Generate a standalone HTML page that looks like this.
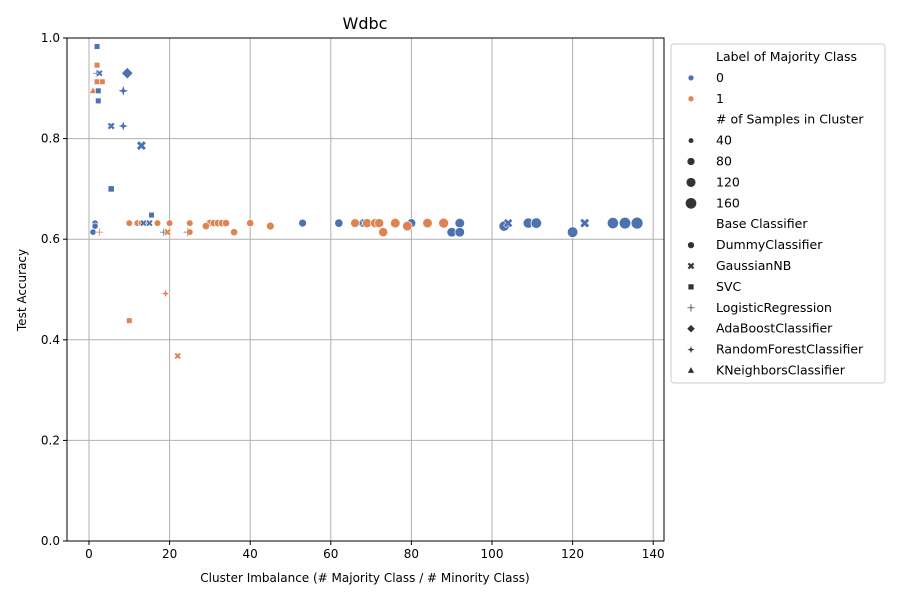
<!DOCTYPE html>
<html><head><meta charset="utf-8"><style>
body{margin:0;background:#fff;font-family:"Liberation Sans","DejaVu Sans",sans-serif}
svg text{font-family:"DejaVu Sans","Liberation Sans",sans-serif;fill:#000}
</style></head><body>
<svg id="chart" width="900" height="600">
<text x="365" y="29" font-size="16" text-anchor="middle">Wdbc</text>
<g id="grid"></g><g id="pts"></g><g id="axes"></g><g id="legend"></g>
</svg>
<script>
const xs=[2,2,1.8,2.6,2,3.3,1,2.3,2.3,9.5,8.5,5.5,8.5,13,5.5,
1.5,1.5,1,2.6,10,12,13,14,17,20,25,30,31,32,33,34,40,13.5,15.5,15,19,18.5,19.5,24.5,25,29,36,45,
53,62,68,80,90,92,92,103,109,111,120,130,133,136,68.5,104,123,
66,69,71,72,73,76,79,84,88,19,10,22];
const ys=[0.983,0.946,0.93,0.93,0.913,0.913,0.895,0.895,0.875,0.93,0.895,0.825,0.825,0.786,0.70,
0.632,0.626,0.614,0.614,0.632,0.632,0.632,0.632,0.632,0.632,0.632,0.632,0.632,0.632,0.632,0.632,0.632,0.632,0.648,0.632,0.614,0.614,0.614,0.614,0.614,0.626,0.614,0.626,
0.632,0.632,0.632,0.632,0.614,0.632,0.614,0.626,0.632,0.632,0.614,0.632,0.632,0.632,0.632,0.632,0.632,
0.632,0.632,0.632,0.632,0.614,0.632,0.626,0.632,0.632,0.492,0.438,0.368];
const cls=[0,1,0,0,1,1,1,0,0,0,0,0,0,0,0,
0,0,0,1,1,1,1,1,1,1,1,1,1,1,1,1,1,0,0,0,1,0,1,0,1,1,1,1,
0,0,0,0,0,0,0,0,0,0,0,0,0,0,0,0,0,
1,1,1,1,1,1,1,1,1,1,1,1];
const clf=["SVC","SVC","LR","GNB","SVC","SVC","KNN","SVC","SVC","ADA","RF","GNB","RF","GNB","SVC",
"D","D","D","LR","D","D","D","D","D","D","D","D","D","D","D","D","D","GNB","SVC","GNB","LR","LR","GNB","LR","D","D","D","D",
"D","D","D","D","D","D","D","D","D","D","D","D","D","D","GNB","GNB","GNB",
"D","D","D","D","D","D","D","D","D","RF","SVC","GNB"];
const samples=[30,30,30,30,30,30,30,30,30,70,60,40,50,80,40,
25,25,25,35,30,30,30,30,30,30,30,40,40,40,40,40,40,30,30,30,40,35,35,50,30,40,40,50,
50,60,70,70,90,90,90,110,110,120,120,140,150,160,70,70,80,
70,80,80,80,80,90,90,90,100,30,30,30];
const xTicks=[0,20,40,60,80,100,120,140];
const yTicks=[0.0,0.2,0.4,0.6,0.8,1.0];
const X=v=>89+v*4.03, Y=v=>541-v*503;
const L=67,R=664,T=38,B=541;
const NS="http://www.w3.org/2000/svg";
const COL=["#4c72b0","#dd8452"];
function el(t,a,p){const e=document.createElementNS(NS,t);for(const k in a)e.setAttribute(k,a[k]);p.appendChild(e);return e;}
const grid=document.getElementById('grid'),axes=document.getElementById('axes'),pts=document.getElementById('pts'),leg=document.getElementById('legend');
xTicks.forEach(t=>{const x=X(t);
const g=el('line',{x1:x,x2:x,y1:T,y2:B,stroke:'#b0b0b0','stroke-width':1},grid);

el('line',{x1:x,x2:x,y1:B,y2:B+4,stroke:'#000'},axes);
const tx=el('text',{x:x,y:B+17,'font-size':12,'text-anchor':'middle'},axes);tx.textContent=t;
});
yTicks.forEach(t=>{const y=Y(t);
const g=el('line',{x1:L,x2:R,y1:y,y2:y,stroke:'#b0b0b0','stroke-width':1},grid);

el('line',{x1:L-4,x2:L,y1:y,y2:y,stroke:'#000'},axes);
const tx=el('text',{x:L-7,y:y+4,'font-size':12,'text-anchor':'end'},axes);tx.textContent=t.toFixed(1);
});
const fr=el('rect',{x:L,y:T,width:R-L,height:B-T,fill:'none',stroke:'#000','stroke-width':1},axes);

let xl=el('text',{x:365,y:582,'font-size':12,'text-anchor':'middle'},axes);xl.textContent='Cluster Imbalance (# Majority Class / # Minority Class)';

let yl=el('text',{x:0,y:0,'font-size':12,'text-anchor':'middle',transform:'translate(26,290) rotate(-90)'},axes);yl.textContent='Test Accuracy';

function marker(k,cx,cy,r,c,p){
 let d;const s=r;
 if(k==='D')return el('circle',{cx,cy,r:s,fill:c,stroke:'#fff','stroke-width':0.7},p);
 if(k==='SVC')return el('rect',{x:cx-s*0.85,y:cy-s*0.85,width:s*1.7,height:s*1.7,fill:c,stroke:'#fff','stroke-width':0.7},p);
 if(k==='ADA')d=`M${cx},${cy-s*1.3}L${cx+s*1.3},${cy}L${cx},${cy+s*1.3}L${cx-s*1.3},${cy}Z`;
 if(k==='KNN')d=`M${cx},${cy-s*1.2}L${cx+s*1.1},${cy+s*0.8}L${cx-s*1.1},${cy+s*0.8}Z`;
 if(k==='RF'){const a=s*1.4,b=s*0.35;d=`M${cx},${cy-a}L${cx+b},${cy-b}L${cx+a},${cy}L${cx+b},${cy+b}L${cx},${cy+a}L${cx-b},${cy+b}L${cx-a},${cy}L${cx-b},${cy-b}Z`;}
 if(d)return el('path',{d,fill:c,stroke:'#fff','stroke-width':0.6},p);
 const g=el('g',{},p);const w=k==='GNB'?s*0.75:s*0.35,a=s*1.1;
 const rot=k==='GNB'?`rotate(45 ${cx} ${cy})`:'';
 el('path',{d:`M${cx-w/2},${cy-a}h${w}v${a-w/2}h${a-w/2}v${w}h${-(a-w/2)}v${a-w/2}h${-w}v${-(a-w/2)}h${-(a-w/2)}v${-w}h${a-w/2}Z`,fill:c,stroke:'#fff','stroke-width':0.5,transform:rot},g);
 return g;
}
xs.forEach((v,i)=>{const r=1.4+Math.sqrt(samples[i])*0.36;
 const m=marker(clf[i],X(v),Y(ys[i]),r,COL[cls[i]],pts);
 
 });
const lb=el('rect',{x:671,y:44,width:214,height:339,rx:3,fill:'#fff',stroke:'#ccc'},leg);

const items=[["Label of Majority Class",null],["0",["D",3,COL[0]]],["1",["D",3,COL[1]]],
["# of Samples in Cluster",null],["40",["D",2.8,"#333"]],["80",["D",4,"#333"]],["120",["D",4.9,"#333"]],["160",["D",5.7,"#333"]],
["Base Classifier",null],["DummyClassifier",["D",3.5,"#333"]],["GaussianNB",["GNB",3.5,"#333"]],["SVC",["SVC",3.5,"#333"]],
["LogisticRegression",["LR",3.5,"#333"]],["AdaBoostClassifier",["ADA",3.2,"#333"]],["RandomForestClassifier",["RF",3.2,"#333"]],["KNeighborsClassifier",["KNN",3.3,"#333"]]];
items.forEach((it,i)=>{const y=57+i*20.9;
 const t=el('text',{x:716,y:y+4,'font-size':12.5},leg);t.textContent=it[0];
 
 if(it[1]){const m=marker(it[1][0],691,y,it[1][1],it[1][2],leg);
 }
});
</script>
</body></html>
